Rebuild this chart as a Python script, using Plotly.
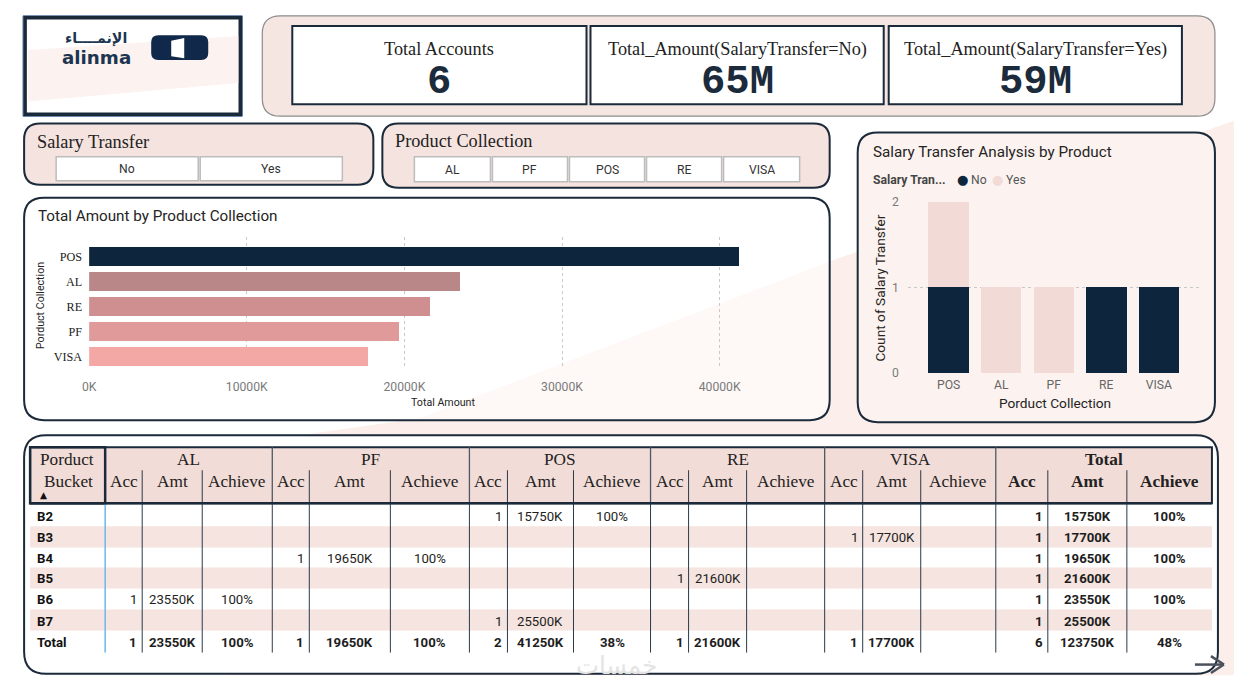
import plotly.graph_objects as go

# The page places the figure 16px in from the corner and the captured page
# (1250x707) is reduced to 1242x691; reference pixels are mapped through that.
FIG_W, FIG_H, OFF = 1226, 675, 16
SX, SY = 1242 / 1250, 691 / 707
FS = 1.015  # font compensation for the reduction

# ---------------- DATA ----------------
kpi_titles = ["Total Accounts", "Total_Amount(SalaryTransfer=No)", "Total_Amount(SalaryTransfer=Yes)"]
kpi_values = ["6", "65M", "59M"]

salary_options = ["No", "Yes"]
slicer_products = ["AL", "PF", "POS", "RE", "VISA"]

bar_products = ["POS", "AL", "RE", "PF", "VISA"]
bar_amounts_k = [41250, 23550, 21600, 19650, 17700]
bar_colors = ["#0D263D", "#BA8789", "#CF8F91", "#E09A9A", "#F4A8A6"]

col_products = ["POS", "AL", "PF", "RE", "VISA"]
count_no = [1, 0, 0, 1, 1]
count_yes = [1, 1, 1, 0, 0]
series_names = ["No", "Yes"]
series_colors = ["#0D263D", "#F2DAD7"]

buckets = ["B2", "B3", "B4", "B5", "B6", "B7"]
tbl_groups = ["AL", "PF", "POS", "RE", "VISA"]
tbl_acc = {
    "AL": [None, None, None, None, 1, None],
    "PF": [None, None, 1, None, None, None],
    "POS": [1, None, None, None, None, 1],
    "RE": [None, None, None, 1, None, None],
    "VISA": [None, 1, None, None, None, None],
}
tbl_amt_k = {
    "AL": [None, None, None, None, 23550, None],
    "PF": [None, None, 19650, None, None, None],
    "POS": [15750, None, None, None, None, 25500],
    "RE": [None, None, None, 21600, None, None],
    "VISA": [None, 17700, None, None, None, None],
}
tbl_ach = {
    "AL": [None, None, None, None, 100, None],
    "PF": [None, None, 100, None, None, None],
    "POS": [100, None, None, None, None, None],
    "RE": [None, None, None, None, None, None],
    "VISA": [None, None, None, None, None, None],
}
grp_tot_acc = {"AL": 1, "PF": 1, "POS": 2, "RE": 1, "VISA": 1}
grp_tot_amt_k = {"AL": 23550, "PF": 19650, "POS": 41250, "RE": 21600, "VISA": 17700}
grp_tot_ach = {"AL": 100, "PF": 100, "POS": 38, "RE": None, "VISA": None}
row_tot_acc = [1, 1, 1, 1, 1, 1]
row_tot_amt_k = [15750, 17700, 19650, 21600, 23550, 25500]
row_tot_ach = [100, None, 100, None, 100, None]
grand_acc, grand_amt_k, grand_ach = 6, 123750, 48

# ---------------- HELPERS ----------------
def ymap(p):
    # squeeze the thin top and bottom bands so they stay inside the visible figure
    if p < 124:
        return 16.5 + (p - 7) * (124 - 16.5) / (124 - 7)
    if p > 652:
        return 652 + (p - 652) * (674.5 - 652) / (684 - 652)
    return p

def X(p): return (p / SX - OFF) / FIG_W
def Y(p): return 1 - (ymap(p) / SY - OFF) / FIG_H

NAVY = "#1B2A3A"
SERIF = "Liberation Serif, serif"
SANS = "Roboto, sans-serif"

shapes = []
ann = []

def rect(x0, y0, x1, y1, fill="rgba(0,0,0,0)", line="rgba(0,0,0,0)", lw=0, layer="below"):
    shapes.append(dict(type="rect", xref="paper", yref="paper", x0=X(x0), x1=X(x1), y0=Y(y1), y1=Y(y0),
                       fillcolor=fill, line=dict(color=line, width=lw), layer=layer))

def rrect(x0, y0, x1, y1, r, fill, line="rgba(0,0,0,0)", lw=0, layer="below"):
    rx, ry = r / SX / FIG_W, r / SY / FIG_H
    a, b, c, d = X(x0), X(x1), Y(y0), Y(y1)
    path = (f"M {a+rx},{c} L {b-rx},{c} Q {b},{c} {b},{c-ry} "
            f"L {b},{d+ry} Q {b},{d} {b-rx},{d} L {a+rx},{d} Q {a},{d} {a},{d+ry} "
            f"L {a},{c-ry} Q {a},{c} {a+rx},{c} Z")
    shapes.append(dict(type="path", xref="paper", yref="paper", path=path, fillcolor=fill,
                       line=dict(color=line, width=lw), layer=layer))

def poly(pts, fill, layer="below", line="rgba(0,0,0,0)", lw=0):
    path = "M " + " L ".join(f"{X(x)},{Y(y)}" for x, y in pts) + " Z"
    shapes.append(dict(type="path", xref="paper", yref="paper", path=path, fillcolor=fill,
                       line=dict(color=line, width=lw), layer=layer))

def line(x0, y0, x1, y1, color, lw, layer="above"):
    shapes.append(dict(type="line", xref="paper", yref="paper", x0=X(x0), x1=X(x1), y0=Y(y0), y1=Y(y1),
                       line=dict(color=color, width=lw), layer=layer))

def txt(x, y, s, size, color="#222", family=SANS, xanchor="center", yanchor="middle", angle=0):
    ann.append(dict(x=X(x), y=Y(y), xref="paper", yref="paper", text=s, showarrow=False,
                    font=dict(size=size * FS, color=color, family=family), xanchor=xanchor,
                    yanchor=yanchor, textangle=angle, borderpad=0))

# ---------------- BACKGROUND ----------------
poly([(230, 445), (420, 418), (840, 258), (1242, 118), (1242, 684), (230, 684)], "#FCEFEB")

# ---------------- LOGO ----------------
rect(24, 7, 243, 116, fill="white", line="#2C5A8A", lw=1)
rect(26, 9, 241, 114, fill="white", line=NAVY, lw=3.5)
poly([(29, 44), (239, 29), (239, 80), (29, 100)], "#FCF2EF")
rrect(152, 28, 209, 55, 7, "#10294A")
poly([(172, 34), (185, 31), (185, 53), (172, 51)], "white")
txt(97, 32, "<b>الإنمــــاء</b>", 14, color="#1C3550", family="DejaVu Sans")
txt(97, 52, "<b>alinma</b>", 18, color="#1C3550", family="DejaVu Sans")

# ---------------- KPI ----------------
rrect(263, 7, 1215, 116, 18, "#F5E6E1", line="#8C8C8C", lw=1.2)
kpi_boxes = [(293, 587), (591, 884), (889, 1182)]
for (x0, x1), t, v in zip(kpi_boxes, kpi_titles, kpi_values):
    rect(x0, 18, x1, 103, fill="white", line=NAVY, lw=2)
    txt((x0 + x1) / 2, 43, t, 18, color="#222", family=SERIF)
    txt((x0 + x1) / 2, 79, f"<b>{v}</b>", 40, color="#1B2B3B", family="Liberation Mono, monospace")

# ---------------- SLICERS ----------------
rrect(25, 124, 374, 185, 16, "#F5E3DF", line=NAVY, lw=2)
txt(37, 142, "Salary Transfer", 18, color="#222", family=SERIF, xanchor="left")
for (x0, x1), s in zip([(57, 199), (201, 343)], salary_options):
    rect(x0, 157, x1, 181, fill="white", line="#BDBDBD", lw=1.5)
    txt((x0 + x1) / 2, 169, s, 12, color="#333")

rrect(383, 124, 830, 188, 16, "#F5E3DF", line=NAVY, lw=2)
txt(395, 141, "Product Collection", 18, color="#222", family=SERIF, xanchor="left")
for (x0, x1), s in zip([(415, 491), (493, 568), (570, 645), (647, 722), (724, 800)], slicer_products):
    rect(x0, 157, x1, 182, fill="white", line="#BDBDBD", lw=1.5)
    txt((x0 + x1) / 2, 170, s, 12, color="#333")

# ---------------- BAR CHART CARD ----------------
rrect(25, 198, 830, 420, 20, "rgba(255,255,255,0.6)", line=NAVY, lw=2)
txt(38, 216, "Total Amount by Product Collection", 15, color="#252423", xanchor="left")
txt(444, 402, "Total Amount", 10.5, color="#252423")
txt(42, 306, "Porduct Collection", 10.5, color="#252423", angle=-90)

# ---------------- COLUMN CHART CARD ----------------
rrect(858, 133, 1215, 422, 20, "#FCF3F0", line=NAVY, lw=2)
txt(872, 152, "Salary Transfer Analysis by Product", 15, color="#252423", xanchor="left")
txt(872, 180, "<b>Salary Tran...</b>", 12, color="#444", xanchor="left")
leg_x = [963, 998]
for lx, nm, colr in zip(leg_x, series_names, series_colors):
    txt(lx, 180, "●", 13, color=colr, family="DejaVu Sans")
    txt(lx + 7, 180, nm, 12, color="#555", xanchor="left")
txt(1055, 403, "Porduct Collection", 13.5, color="#252423")
txt(880, 288, "Count of Salary Transfer", 13.5, color="#252423", angle=-90)

# ---------------- TABLE ----------------
rrect(25, 435, 1218, 682, 22, "white", line=NAVY, lw=2)
col_bounds = {
    "AL": [106, 143, 203, 273],
    "PF": [273, 310, 391, 470],
    "POS": [470, 508, 574, 651],
    "RE": [651, 689, 747, 825],
    "VISA": [825, 863, 921, 996],
    "Total": [996, 1048, 1127, 1212],
}
row_tops = [505, 526, 547, 567, 588, 609, 630, 652]
row_c = [(row_tops[i] + row_tops[i + 1]) / 2 + 1 for i in range(7)]

for i in (1, 3, 5):
    rect(31, row_tops[i], 1212, row_tops[i + 1], fill="#F5E4DF", layer="above")
rect(31, 447, 1212, 503, fill="#F2DCD7", line=NAVY, lw=2, layer="above")
rect(31, 447, 106, 503, line=NAVY, lw=2.5, layer="above")
for g, bnd in col_bounds.items():
    if bnd[3] != 1212:
        line(bnd[3], 447, bnd[3], 503, "#4F5866", 1.3)
    line(bnd[1], 470, bnd[1], 652, "#2B3A4A", 1)
    line(bnd[2], 470, bnd[2], 652, "#2B3A4A", 1)
    if bnd[0] != 106:
        line(bnd[0], 503, bnd[0], 652, "#2B3A4A", 1)
line(106, 503, 106, 652, "#6DB6EE", 1.5)
line(31, 503, 1212, 503, NAVY, 2.5)

txt(68, 459, "Porduct", 17, color="#222", family=SERIF)
txt(69, 481, "Bucket", 17, color="#222", family=SERIF)
txt(44, 495, "▲", 9, color="#111", family="DejaVu Sans")
for g, bnd in col_bounds.items():
    b = (lambda s: f"<b>{s}</b>") if g == "Total" else (lambda s: s)
    txt((bnd[0] + bnd[3]) / 2, 459, b(g), 17, color="#222", family=SERIF)
    for j, sub in enumerate(["Acc", "Amt", "Achieve"]):
        txt((bnd[j] + bnd[j + 1]) / 2, 481, b(sub), 17, color="#222", family=SERIF)

def cells(bnd, acc, amt, ach, y, bold):
    b = (lambda s: f"<b>{s}</b>") if bold else (lambda s: s)
    if acc is not None:
        txt(bnd[1] - 4, y, b(str(acc)), 13, color="#1E1E1E", xanchor="right")
    if amt is not None:
        txt((bnd[1] + bnd[2]) / 2, y, b(f"{amt}K"), 13, color="#1E1E1E")
    if ach is not None:
        txt((bnd[2] + bnd[3]) / 2, y, b(f"{ach}%"), 13, color="#1E1E1E")

for i, bk in enumerate(buckets):
    txt(37, row_c[i], f"<b>{bk}</b>", 13, color="#111", xanchor="left")
    for g in tbl_groups:
        cells(col_bounds[g], tbl_acc[g][i], tbl_amt_k[g][i], tbl_ach[g][i], row_c[i], False)
    cells(col_bounds["Total"], row_tot_acc[i], row_tot_amt_k[i], row_tot_ach[i], row_c[i], True)
txt(37, row_c[6], "<b>Total</b>", 13, color="#111", xanchor="left")
for g in tbl_groups:
    cells(col_bounds[g], grp_tot_acc[g], grp_tot_amt_k[g], grp_tot_ach[g], row_c[6], True)
cells(col_bounds["Total"], grand_acc, grand_amt_k, grand_ach, row_c[6], True)

# watermark & arrow
txt(617, 671, "خمسات", 24, color="#E4E4E4", family="DejaVu Sans")
line(1195, 669, 1223, 669, "#4A525C", 2.5)
line(1211, 657, 1224, 669, "#4A525C", 2.5)
line(1211, 681, 1224, 669, "#4A525C", 2.5)

# ---------------- TRACES ----------------
fig = go.Figure()
fig.add_trace(go.Bar(y=bar_products, x=bar_amounts_k, orientation="h", marker=dict(color=bar_colors, line=dict(width=0)),
                     width=0.76, xaxis="x", yaxis="y", showlegend=False, hoverinfo="skip"))
fig.add_trace(go.Bar(x=col_products, y=count_no, name=series_names[0], marker=dict(color=series_colors[0], line=dict(width=0)),
                     width=0.77, xaxis="x2", yaxis="y2", showlegend=False, hoverinfo="skip"))
fig.add_trace(go.Bar(x=col_products, y=count_yes, name=series_names[1], marker=dict(color=series_colors[1], line=dict(width=0)),
                     width=0.77, xaxis="x2", yaxis="y2", showlegend=False, hoverinfo="skip"))

fig.update_layout(
    width=FIG_W, height=FIG_H, margin=dict(l=0, r=0, t=0, b=0),
    paper_bgcolor="white", plot_bgcolor="rgba(0,0,0,0)",
    barmode="stack", showlegend=False,
    shapes=shapes, annotations=ann,
    xaxis=dict(domain=[X(90), X(798)], anchor="y", range=[0, 44950], dtick=10000, tickformat="d",
               ticksuffix="K", showgrid=True, griddash="dot", gridcolor="#C8C8C8", gridwidth=1,
               zeroline=False, showline=False, ticks="", ticklabelstandoff=10,
               tickfont=dict(size=12 * FS, color="#7A7A7A", family=SANS)),
    yaxis=dict(domain=[Y(368), Y(237)], anchor="x", type="category", categoryorder="array",
               categoryarray=bar_products, range=[4.46, -0.78], showgrid=False, zeroline=False,
               ticks="", ticklabelstandoff=6, tickfont=dict(size=12 * FS, color="#222", family=SERIF)),
    xaxis2=dict(domain=[X(908), X(1202)], anchor="y2", type="category", categoryorder="array",
                categoryarray=col_products, range=[-0.78, 4.82], showgrid=False, zeroline=False,
                ticks="", ticklabelstandoff=3, tickfont=dict(size=12 * FS, color="#666", family=SANS)),
    yaxis2=dict(domain=[Y(373), Y(202)], anchor="x2", range=[0, 2], dtick=1, showgrid=True,
                griddash="dot", gridcolor="#C8C8C8", zeroline=False, ticks="", ticklabelstandoff=8,
                tickfont=dict(size=12 * FS, color="#7A7A7A", family=SANS)),
)

fig.write_html("out.html", config={"displayModeBar": False})
